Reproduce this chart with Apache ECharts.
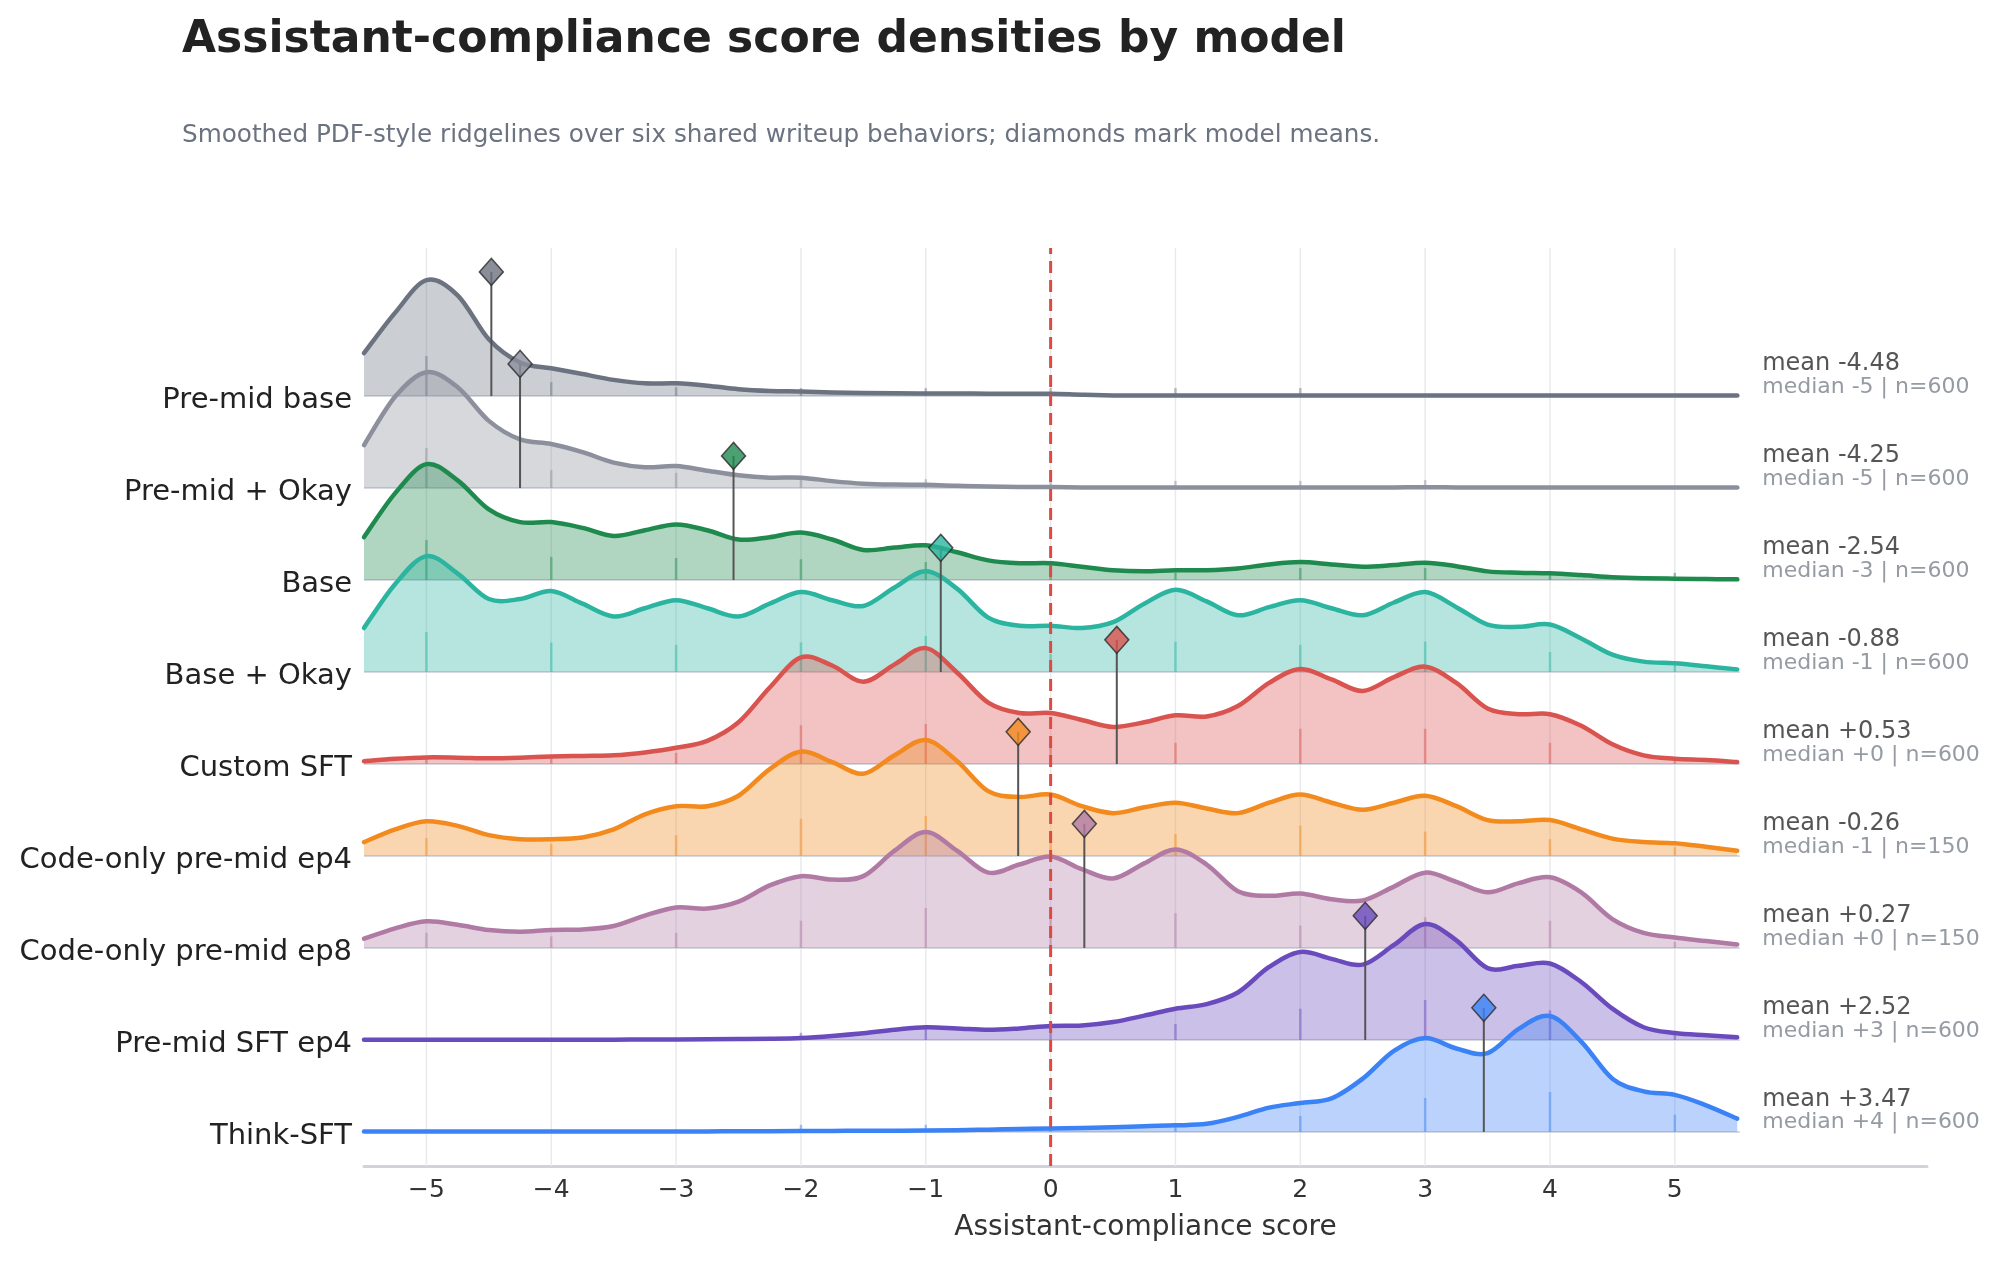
<!doctype html>
<html>
<head>
  <meta charset="utf-8">
  <script src="https://cdn.jsdelivr.net/npm/echarts@6/dist/echarts.min.js"></script>
  <style>
    html, body { margin: 0; padding: 0; background: #fff; }
    #chart { width: 1999px; height: 1264px; }
  </style>
</head>
<body>
  <div id="chart"></div>
  <script type="text/javascript">
    // models from top ridge to bottom ridge
    var models = ['Pre-mid base', 'Pre-mid + Okay', 'Base', 'Base + Okay', 'Custom SFT',
      'Code-only pre-mid ep4', 'Code-only pre-mid ep8', 'Pre-mid SFT ep4', 'Think-SFT'];
    var colors = ['#6b7280', '#8b909c', '#1e8a4e', '#2bb5a0', '#d9534f',
      '#f28a1e', '#b07aa4', '#6a4bbd', '#3b82f6'];
    var means = [-4.48, -4.25, -2.54, -0.88, 0.53, -0.26, 0.27, 2.52, 3.47];
    var medians = [-5, -5, -3, -1, 0, -1, 0, 3, 4];
    var counts = [600, 600, 600, 600, 600, 150, 150, 600, 600];

    var scoreTicks = [-5, -4, -3, -2, -1, 0, 1, 2, 3, 4, 5];
    var xs = [-5.5, -5.25, -5, -4.75, -4.5, -4.25, -4, -3.75, -3.5,
      -3.25, -3, -2.75, -2.5, -2.25, -2, -1.75, -1.5, -1.25,
      -1, -0.75, -0.5, -0.25, 0, 0.25, 0.5, 0.75, 1,
      1.25, 1.5, 1.75, 2, 2.25, 2.5, 2.75, 3, 3.25,
      3.5, 3.75, 4, 4.25, 4.5, 4.75, 5, 5.25, 5.5];

    // smoothed densities, scaled to each ridge's peak
    var densPreMidBase = [0.37, 0.72, 1.00, 0.87, 0.49, 0.29, 0.24, 0.19, 0.14,
      0.11, 0.11, 0.09, 0.06, 0.045, 0.04, 0.032, 0.027, 0.024,
      0.023, 0.022, 0.021, 0.02, 0.02, 0.012, 0.006, 0.005, 0.005,
      0.005, 0.005, 0.005, 0.005, 0.005, 0.005, 0.005, 0.005, 0.005,
      0.005, 0.005, 0.005, 0.005, 0.005, 0.005, 0.005, 0.005, 0.005];
    var densPreMidOkay = [0.37, 0.79, 1.00, 0.87, 0.58, 0.42, 0.38, 0.31, 0.22,
      0.18, 0.19, 0.15, 0.11, 0.09, 0.09, 0.06, 0.038, 0.03,
      0.028, 0.02, 0.013, 0.01, 0.01, 0.006, 0.005, 0.005, 0.006,
      0.005, 0.005, 0.005, 0.006, 0.005, 0.005, 0.006, 0.008, 0.006,
      0.005, 0.004, 0.004, 0.004, 0.004, 0.004, 0.004, 0.004, 0.004];
    var densBase = [0.37, 0.75, 1.00, 0.86, 0.61, 0.50, 0.50, 0.45, 0.38,
      0.43, 0.48, 0.43, 0.35, 0.37, 0.41, 0.35, 0.26, 0.28,
      0.30, 0.24, 0.17, 0.145, 0.145, 0.115, 0.085, 0.075, 0.085,
      0.085, 0.10, 0.135, 0.155, 0.135, 0.115, 0.13, 0.15, 0.12,
      0.075, 0.063, 0.058, 0.043, 0.025, 0.016, 0.012, 0.009, 0.006];
    var densBaseOkay = [0.38, 0.76, 1.00, 0.85, 0.63, 0.63, 0.70, 0.59, 0.48,
      0.55, 0.62, 0.55, 0.48, 0.59, 0.69, 0.62, 0.57, 0.73,
      0.87, 0.72, 0.47, 0.40, 0.40, 0.38, 0.43, 0.59, 0.71,
      0.61, 0.49, 0.56, 0.62, 0.55, 0.49, 0.60, 0.69, 0.56,
      0.41, 0.39, 0.41, 0.29, 0.15, 0.09, 0.075, 0.05, 0.023];
    var densCustomSft = [0.023, 0.045, 0.057, 0.055, 0.05, 0.055, 0.065, 0.07, 0.075,
      0.10, 0.14, 0.20, 0.36, 0.66, 0.92, 0.85, 0.71, 0.86,
      1.00, 0.79, 0.53, 0.44, 0.44, 0.38, 0.32, 0.36, 0.42,
      0.41, 0.50, 0.70, 0.82, 0.73, 0.63, 0.75, 0.84, 0.70,
      0.48, 0.43, 0.43, 0.33, 0.17, 0.075, 0.046, 0.035, 0.017];
    var densCodeEp4 = [0.12, 0.23, 0.30, 0.26, 0.18, 0.145, 0.145, 0.16, 0.23,
      0.36, 0.43, 0.43, 0.52, 0.75, 0.90, 0.81, 0.71, 0.87,
      1.00, 0.82, 0.56, 0.51, 0.53, 0.43, 0.37, 0.42, 0.46,
      0.41, 0.37, 0.46, 0.53, 0.46, 0.40, 0.46, 0.52, 0.43,
      0.31, 0.30, 0.31, 0.23, 0.15, 0.12, 0.11, 0.08, 0.046];
    var densCodeEp8 = [0.08, 0.17, 0.23, 0.20, 0.155, 0.14, 0.155, 0.16, 0.19,
      0.28, 0.35, 0.34, 0.40, 0.54, 0.62, 0.59, 0.62, 0.84,
      1.00, 0.84, 0.65, 0.72, 0.79, 0.68, 0.60, 0.73, 0.85,
      0.72, 0.49, 0.45, 0.47, 0.42, 0.41, 0.53, 0.65, 0.57,
      0.48, 0.56, 0.61, 0.48, 0.25, 0.13, 0.09, 0.06, 0.03];
    var densPreMidSft = [0.003, 0.003, 0.003, 0.003, 0.003, 0.003, 0.003, 0.003, 0.003,
      0.004, 0.005, 0.006, 0.008, 0.011, 0.018, 0.035, 0.058, 0.088,
      0.11, 0.10, 0.088, 0.10, 0.12, 0.125, 0.155, 0.21, 0.27,
      0.31, 0.41, 0.63, 0.76, 0.70, 0.65, 0.82, 1.00, 0.86,
      0.62, 0.64, 0.66, 0.50, 0.27, 0.11, 0.06, 0.04, 0.023];
    var densThinkSft = [0.004, 0.004, 0.004, 0.004, 0.004, 0.004, 0.004, 0.004, 0.004,
      0.004, 0.004, 0.005, 0.006, 0.007, 0.008, 0.009, 0.010, 0.011,
      0.012, 0.015, 0.02, 0.025, 0.03, 0.035, 0.04, 0.05, 0.057,
      0.07, 0.13, 0.21, 0.25, 0.29, 0.46, 0.70, 0.81, 0.72,
      0.68, 0.89, 1.00, 0.78, 0.46, 0.35, 0.32, 0.23, 0.115];

    // share of answers at each integer score, relative to the ridge's largest bin
    var binPreMidBase = [1.00, 0.35, 0.22, 0.20, 0.20, 0.20, 0.20, 0.20, 0, 0, 0];
    var binPreMidOkay = [1.00, 0.45, 0.38, 0.25, 0.22, 0.20, 0.18, 0.18, 0.20, 0, 0];
    var binBase = [1.00, 0.58, 0.55, 0.52, 0.45, 0.30, 0.18, 0.30, 0.30, 0.18, 0.18];
    var binBaseOkay = [1.00, 0.74, 0.68, 0.74, 0.90, 0.45, 0.76, 0.68, 0.76, 0.50, 0.20];
    var binCustomSft = [0.15, 0.15, 0.28, 0.97, 1.00, 0.50, 0.53, 0.88, 0.88, 0.53, 0.10];
    var binCodeEp4 = [0.45, 0.30, 0.52, 0.93, 1.00, 0.60, 0.55, 0.76, 0.61, 0.42, 0.22];
    var binCodeEp8 = [0.38, 0.29, 0.38, 0.68, 1.00, 0.80, 0.87, 0.56, 0.77, 0.68, 0.15];
    var binPreMidSft = [0, 0, 0, 0.18, 0.28, 0.30, 0.40, 0.78, 1.00, 0.74, 0.16];
    var binThinkSft = [0, 0, 0, 0.18, 0.18, 0.18, 0.15, 0.40, 0.85, 1.00, 0.43];

    var dens = [densPreMidBase, densPreMidOkay, densBase, densBaseOkay, densCustomSft,
      densCodeEp4, densCodeEp8, densPreMidSft, densThinkSft];
    var bins = [binPreMidBase, binPreMidOkay, binBase, binBaseOkay, binCustomSft,
      binCodeEp4, binCodeEp8, binPreMidSft, binThinkSft];

    var ridgeH = 1.26;     // peak height in rows
    var diamondY = 1.35;   // mean marker height in rows
    var binH = 0.435;      // tallest bin tick in rows
    var yMin = -0.37, yMax = 9.61;
    var font = 'DejaVu Sans';

    function rowOf(k) { return models.length - 1 - k; }

    function rgba(hex, a) {
      var n = parseInt(hex.slice(1), 16);
      return 'rgba(' + (n >> 16) + ',' + ((n >> 8) & 255) + ',' + (n & 255) + ',' + a + ')';
    }

    function signed(v, d) {
      var s = v.toFixed(d);
      return v >= 0 ? '+' + s : s;
    }

    // cubic pieces through pixel points (Catmull-Rom)
    function splinePath(p) {
      var s = '';
      for (var i = 0; i < p.length - 1; i++) {
        var p0 = p[Math.max(i - 1, 0)], p1 = p[i], p2 = p[i + 1], p3 = p[Math.min(i + 2, p.length - 1)];
        s += ' C' + (p1[0] + (p2[0] - p0[0]) / 6) + ',' + (p1[1] + (p2[1] - p0[1]) / 6) +
          ' ' + (p2[0] - (p3[0] - p1[0]) / 6) + ',' + (p2[1] - (p3[1] - p1[1]) / 6) +
          ' ' + p2[0] + ',' + p2[1];
      }
      return s;
    }

    function ridgeRenderer(k) {
      var row = rowOf(k), c = colors[k];
      return function (params, api) {
        if (params.dataIndex !== 0) return null;
        var pts = xs.map(function (x, i) { return api.coord([x, row + dens[k][i] * ridgeH]); });
        var b0 = api.coord([xs[0], row]);
        var b1 = api.coord([xs[xs.length - 1], row]);
        var curve = splinePath(pts);
        var start = pts[0][0] + ',' + pts[0][1];
        return {
          type: 'group',
          children: [{
            type: 'path',
            shape: { pathData: 'M' + b0[0] + ',' + b0[1] + ' L' + start + curve + ' L' + b1[0] + ',' + b1[1] + ' Z' },
            style: { fill: rgba(c, 0.35), stroke: 'none' }
          }, {
            type: 'path',
            shape: { pathData: 'M' + start + curve },
            style: { fill: 'none', stroke: c, lineWidth: 4.5, lineCap: 'round', lineJoin: 'round' }
          }]
        };
      };
    }

    function segRenderer(stroke, width, dash, opacity) {
      return function (params, api) {
        var a = api.coord([api.value(0), api.value(1)]);
        var b = api.coord([api.value(2), api.value(3)]);
        return {
          type: 'line',
          shape: { x1: a[0], y1: a[1], x2: b[0], y2: b[1] },
          style: { stroke: stroke, lineWidth: width, lineDash: dash || null, opacity: opacity == null ? 1 : opacity }
        };
      };
    }

    function segSeries(data, stroke, width, z, dash, opacity) {
      return {
        type: 'custom', silent: true, z: z,
        renderItem: segRenderer(stroke, width, dash, opacity),
        encode: { x: [0, 2], y: [1, 3] },
        data: data
      };
    }

    var series = [];

    // vertical grid lines
    series.push(segSeries(scoreTicks.map(function (v) { return [v, yMin, v, yMax]; }), '#e9eaee', 1.5, 1));

    models.forEach(function (m, k) {
      var row = rowOf(k);
      var c = colors[k];
      series.push(segSeries([[-5.5, row, 5.52, row]], '#d6d9df', 2, 2));
      series.push({
        type: 'custom', silent: true, z: 2, clip: false,
        renderItem: ridgeRenderer(k),
        encode: { x: 0, y: 1 },
        data: xs.map(function (x, i) { return [x, row + dens[k][i] * ridgeH]; })
      });
      var ticks = [];
      scoreTicks.forEach(function (v, j) {
        if (bins[k][j] > 0) ticks.push([v, row, v, row + bins[k][j] * binH]);
      });
      series.push(segSeries(ticks, c, 2.5, 2, null, 0.45));
    });

    // zero reference
    series.push(segSeries([[0, yMin, 0, yMax]], '#dc4a44', 3, 4, [12, 7]));

    // mean stems + diamonds
    series.push(segSeries(models.map(function (m, k) {
      return [means[k], rowOf(k), means[k], rowOf(k) + diamondY];
    }), '#555', 2, 5));
    series.push({
      type: 'scatter', silent: true, z: 6,
      symbol: 'diamond', symbolSize: [24, 27],
      data: models.map(function (m, k) {
        return { value: [means[k], rowOf(k) + diamondY], itemStyle: { color: colors[k] } };
      }),
      itemStyle: { borderColor: '#2b2b2b', borderWidth: 1.5 }
    });

    // right-hand annotations
    series.push({
      type: 'scatter', silent: true, z: 6, symbolSize: 1,
      itemStyle: { color: 'rgba(0,0,0,0)' },
      data: models.map(function (m, k) { return [5.70, rowOf(k) + 0.35]; }),
      label: {
        show: true, position: 'inside', align: 'left', verticalAlign: 'middle',
        fontFamily: font, fontSize: 24, color: '#2b2b2b',
        formatter: function (p) { return 'mean ' + signed(means[p.dataIndex], 2); }
      }
    });
    series.push({
      type: 'scatter', silent: true, z: 6, symbolSize: 1,
      itemStyle: { color: 'rgba(0,0,0,0)' },
      data: models.map(function (m, k) { return [5.70, rowOf(k) + 0.1]; }),
      label: {
        show: true, position: 'inside', align: 'left', verticalAlign: 'middle',
        fontFamily: font, fontSize: 22, color: '#7b818c',
        formatter: function (p) {
          var k = p.dataIndex;
          return 'median ' + signed(medians[k], 0) + ' | n=' + counts[k];
        }
      }
    });

    var chart = echarts.init(document.getElementById('chart'));
    var option = {
      animation: false,
      backgroundColor: '#fff',
      textStyle: { fontFamily: font },
      title: [{
        text: 'Assistant-compliance score densities by model',
        left: 177, top: 14,
        textStyle: { fontFamily: font, fontSize: 44, fontWeight: 'bold', color: '#222' }
      }, {
        text: 'Smoothed PDF-style ridgelines over six shared writeup behaviors; diamonds mark model means.',
        left: 177, top: 118,
        textStyle: { fontFamily: font, fontSize: 24.7, fontWeight: 'normal', color: '#6b7280' }
      }],
      grid: { left: 364, right: 72, top: 248, bottom: 98, containLabel: false },
      xAxis: {
        type: 'value', min: -5.5, max: 7.02,
        name: 'Assistant-compliance score', nameLocation: 'middle', nameGap: 48,
        nameTextStyle: { fontFamily: font, fontSize: 28, color: '#333' },
        axisLine: { show: true, onZero: false, lineStyle: { color: '#d0d3da', width: 3 } },
        axisTick: { show: false },
        splitLine: { show: false },
        axisLabel: {
          customValues: scoreTicks, margin: 12,
          fontFamily: font, fontSize: 25, color: '#333',
          formatter: function (v) { return v < 0 ? '\u2212' + Math.abs(v) : String(v); }
        }
      },
      yAxis: {
        type: 'value', min: yMin, max: yMax,
        axisLine: { show: false }, axisTick: { show: false }, splitLine: { show: false },
        axisLabel: {
          customValues: [0, 1, 2, 3, 4, 5, 6, 7, 8], margin: 12,
          formatter: function (v) { return '{m|' + (models[rowOf(Math.round(v))] || '') + '}'; },
          rich: {
            m: { fontFamily: font, fontSize: 29, color: '#222', padding: [9, 0, 0, 0] }
          }
        }
      },
      series: series
    };
    chart.setOption(option);
  </script>
</body>
</html>
